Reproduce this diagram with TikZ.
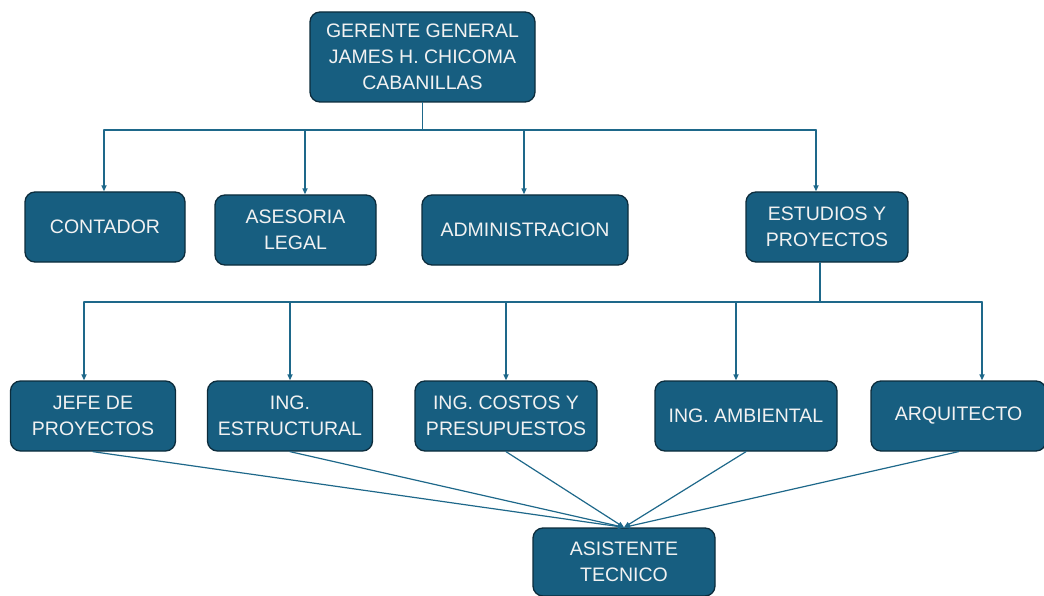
\documentclass[tikz,border=0pt]{standalone}
\usepackage{fontspec}
\setmainfont{Liberation Sans}
\usetikzlibrary{arrows.meta}

\definecolor{boxfill}{RGB}{23,94,128}
\definecolor{boxline}{RGB}{12,44,60}
\definecolor{wire}{RGB}{30,104,138}
\definecolor{boxtext}{RGB}{242,242,242}

\begin{document}
\begin{tikzpicture}[x=1pt, y=-1pt, line cap=round, line join=round,
    >={Triangle[length=6pt, width=5pt]},
    box/.style={draw=boxline, line width=1.3pt, fill=boxfill, rounded corners=10pt,
        text=boxtext, align=center, inner sep=0pt,
        font=\fontsize{19.5}{26}\selectfont},
    wire/.style={draw=wire, line width=1.5pt}]

    % Frame
    \useasboundingbox (0,0) rectangle (1044,596);

    % Boxes
    \node[box, minimum width=225pt, minimum height=90pt] (ger) at (422.5,57) {GERENTE GENERAL\\JAMES H. CHICOMA\\CABANILLAS};

    \node[box, minimum width=160pt, minimum height=70pt] (cont) at (105,227) {CONTADOR};
    \node[box, minimum width=161pt, minimum height=70pt] (ases) at (295.5,230) {ASESORIA\\LEGAL};
    \node[box, minimum width=206pt, minimum height=70pt] (adm) at (525,230) {ADMINISTRACION};
    \node[box, minimum width=162pt, minimum height=70pt] (est) at (827,227) {ESTUDIOS Y\\PROYECTOS};

    \node[box, minimum width=165pt, minimum height=70pt] (jefe) at (93,416) {JEFE DE\\PROYECTOS};
    \node[box, minimum width=165pt, minimum height=70pt] (estr) at (290,416) {ING.\\ESTRUCTURAL};
    \node[box, minimum width=182pt, minimum height=70pt] (cost) at (506,416) {ING. COSTOS Y\\PRESUPUESTOS};
    \node[box, minimum width=182pt, minimum height=70pt] (amb) at (746,416) {ING. AMBIENTAL};
    \node[box, minimum width=175pt, minimum height=70pt] (arq) at (958.5,416) {ARQUITECTO};

    \node[box, minimum width=182pt, minimum height=68pt] (asis) at (624,562) {ASISTENTE\\TECNICO};

    % Upper bus
    \coordinate (d1) at (104,130);
    \coordinate (d2) at (305,130);
    \coordinate (d3) at (524,130);
    \coordinate (d4) at (816,130);
    \draw[wire] (ger.south) -- (ger.south |- d1);
    \draw[wire] (d1) -- (d4);
    \draw[wire, ->] (d1) -- (d1 |- cont.north);
    \draw[wire, ->] (d2) -- (d2 |- ases.north);
    \draw[wire, ->] (d3) -- (d3 |- adm.north);
    \draw[wire, ->] (d4) -- (d4 |- est.north);

    % Lower bus
    \coordinate (b0) at (820,302);
    \coordinate (e1) at (84,302);
    \coordinate (e2) at (290,302);
    \coordinate (e3) at (506,302);
    \coordinate (e4) at (736,302);
    \coordinate (e5) at (982,302);
    \draw[wire] (b0 |- est.south) -- (b0);
    \draw[wire] (e1) -- (e5);
    \draw[wire, ->] (e1) -- (e1 |- jefe.north);
    \draw[wire, ->] (e2) -- (e2 |- estr.north);
    \draw[wire, ->] (e3) -- (e3 |- cost.north);
    \draw[wire, ->] (e4) -- (e4 |- amb.north);
    \draw[wire, ->] (e5) -- (e5 |- arq.north);

    % Assistant
    \foreach \n in {jefe, estr, cost, amb, arq}
        \draw[wire, line width=1.2pt, ->] (\n.south) -- (asis.north);

\end{tikzpicture}
\end{document}
